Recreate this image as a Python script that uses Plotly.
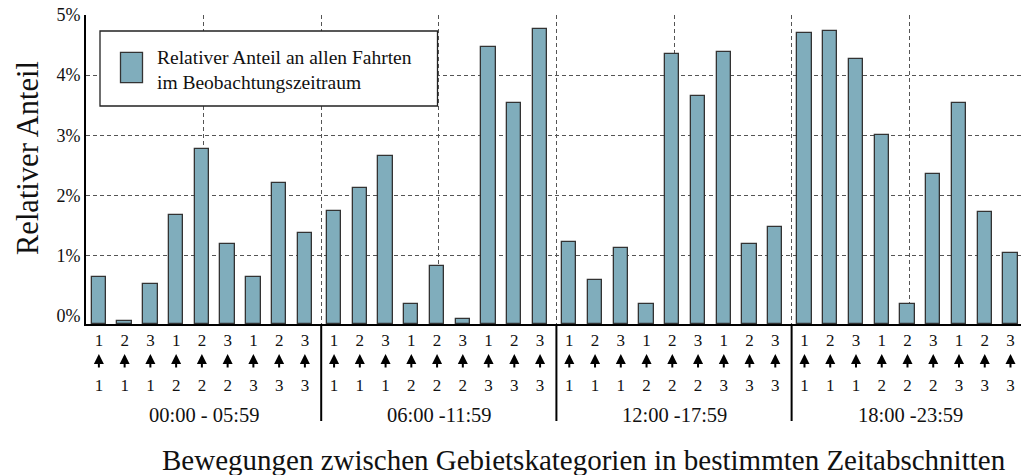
import plotly.graph_objects as go

# --- data (relative share in %) ---
PERIODS = ["00:00 - 05:59", "06:00 -11:59", "12:00 -17:59", "18:00 -23:59"]
DEST = [1, 2, 3, 1, 2, 3, 1, 2, 3]     # upper number (target category)
ORIGIN = [1, 1, 1, 2, 2, 2, 3, 3, 3]   # lower number (source category)
SHARE_NIGHT = [0.64, -0.09, 0.52, 1.68, 2.77, 1.19, 0.65, 2.20, 1.38]
SHARE_MORNING = [1.74, 2.12, 2.66, 0.19, 0.82, -0.05, 4.47, 3.54, 4.76]
SHARE_AFTERNOON = [1.22, 0.60, 1.12, 0.19, 4.35, 3.65, 4.39, 1.20, 1.48]
SHARE_EVENING = [4.70, 4.74, 4.27, 3.00, 0.19, 2.35, 3.54, 1.72, 1.05]
Y_TICKS = [0, 1, 2, 3, 4, 5]
LEGEND_TEXT = "Relativer Anteil an allen Fahrten<br>im Beobachtungszeitraum"
Y_TITLE = "Relativer Anteil"
X_TITLE = "Bewegungen zwischen Gebietskategorien in bestimmten Zeitabschnitten"

# --- layout constants ---
W, H = 1021, 475
L, R, T, B = 86, 0, 15, 151
GROUP_STEP = 9.134          # distance between groups in bar units (extra gap between periods)
Y_MIN, Y_MAX = -0.138, 5.0
X_MIN, X_MAX = -0.5, 35.81
FONT = "Liberation Serif"
TXT = "#111111"
BAR_COLOR = "#80adbc"

shares = [SHARE_NIGHT, SHARE_MORNING, SHARE_AFTERNOON, SHARE_EVENING]
xpos, vals, labels = [], [], []
for g, grp in enumerate(shares):
    for i, v in enumerate(grp):
        xpos.append(g * GROUP_STEP + i)
        vals.append(v)
        labels.append(f"{DEST[i]}<br> <br>{ORIGIN[i]}")

fig = go.Figure()
fig.add_trace(go.Bar(
    x=xpos,
    y=[v - Y_MIN for v in vals],
    base=Y_MIN,
    width=0.555,
    customdata=vals,
    hovertemplate="%{customdata:.2f}%<extra></extra>",
    marker=dict(color=BAR_COLOR, line=dict(color="#333333", width=1.3)),
    showlegend=False,
))

pw = W - L - R
ph = H - T - B


def px_x(px):
    return (px - L) / pw


def px_y(py):
    return (H - B - py) / ph


shapes = []
# solid separators between periods below the axis
for k in range(1, 4):
    xs = X_MIN + k * GROUP_STEP
    shapes.append(dict(type="line", xref="x", yref="paper", x0=xs, x1=xs,
                       y0=0, y1=px_y(421), line=dict(color="black", width=2)))
# custom legend box
shapes.append(dict(type="rect", xref="paper", yref="paper",
                   x0=px_x(100), x1=px_x(437.5), y0=px_y(106), y1=px_y(31),
                   fillcolor="white", line=dict(color="#222222", width=1.3)))
shapes.append(dict(type="rect", xref="paper", yref="paper",
                   x0=px_x(120.5), x1=px_x(142.5), y0=px_y(82.7), y1=px_y(52.3),
                   fillcolor=BAR_COLOR, line=dict(color="#333333", width=1.3)))

annotations = [
    dict(text=LEGEND_TEXT, xref="paper", yref="paper", x=px_x(155), y=px_y(70),
         xanchor="left", yanchor="middle", align="left", showarrow=False,
         font=dict(family=FONT, size=19.5, color=TXT)),
    dict(text=Y_TITLE, xref="paper", yref="paper", x=px_x(28), y=px_y(158),
         xanchor="center", yanchor="middle", textangle=-90, showarrow=False,
         font=dict(family=FONT, size=30.5, color=TXT)),
    dict(text=X_TITLE, xref="paper", yref="paper", x=px_x(584), y=px_y(460),
         xanchor="center", yanchor="middle", showarrow=False,
         font=dict(family=FONT, size=29, color=TXT)),
]
for g, name in enumerate(PERIODS):
    annotations.append(dict(text=name, xref="x", yref="paper", x=g * GROUP_STEP + 4.1,
                            y=px_y(415), xanchor="center", yanchor="middle",
                            showarrow=False,
                            font=dict(family=FONT, size=20.5, color=TXT)))
# upward arrows between the two category numbers
for x in xpos:
    annotations.append(dict(text="", xref="x", yref="paper", x=x, y=px_y(354),
                            ax=0, ay=15, showarrow=True, arrowhead=2,
                            arrowsize=1.0, arrowwidth=2, arrowcolor="black"))

fig.update_layout(
    width=W, height=H,
    margin=dict(l=L, r=R, t=T, b=B, autoexpand=False),
    paper_bgcolor="white", plot_bgcolor="white",
    font=dict(family=FONT, size=17, color=TXT),
    bargap=0,
    shapes=shapes,
    annotations=annotations,
)
fig.update_xaxes(
    range=[X_MIN, X_MAX], automargin=False,
    tickvals=xpos, ticktext=labels,
    tickfont=dict(family=FONT, size=17, color=TXT),
    ticks="", showgrid=False, zeroline=False,
    showline=True, linecolor="black", linewidth=1.8,
    minor=dict(tickvals=[X_MIN + k * GROUP_STEP / 2 for k in range(1, 8)],
               showgrid=True, gridcolor="#555555", gridwidth=1, griddash="4px,3px",
               ticks=""),
)
fig.update_yaxes(
    range=[Y_MIN, Y_MAX], automargin=False,
    tickvals=Y_TICKS, ticktext=[f"{t}%" for t in Y_TICKS],
    tickfont=dict(family=FONT, size=18, color=TXT),
    ticks="", showgrid=False, zeroline=False,
    showline=True, linecolor="black", linewidth=1.8,
    minor=dict(tickvals=Y_TICKS[1:], showgrid=True, gridcolor="#555555",
               gridwidth=1, griddash="4px,3px", ticks=""),
)

# the page body has a default margin; remove it so the figure fills the window
fig.write_html("out.html", config={"displayModeBar": False},
               post_script="document.body.style.margin='0';")
